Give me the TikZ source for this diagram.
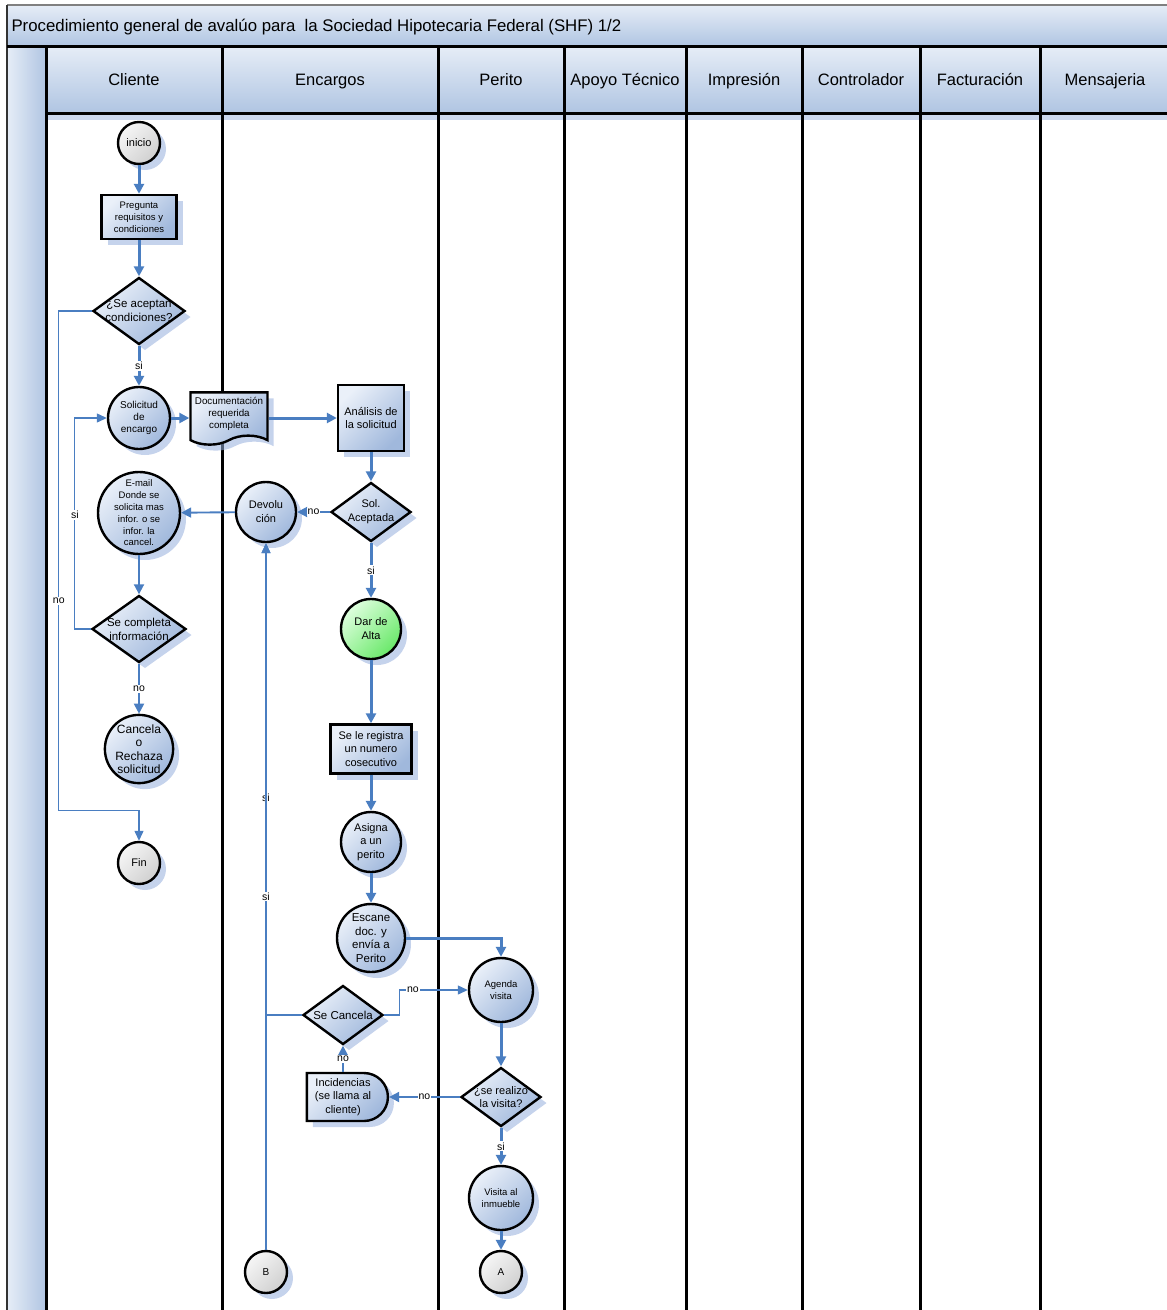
\documentclass[tikz,border=0pt]{standalone}
\usepackage{fontspec}
\setmainfont{Liberation Sans}
\definecolor{flowblue}{RGB}{74, 126, 193}
\definecolor{nodelight}{RGB}{234, 240, 249}
\definecolor{nodedark}{RGB}{160, 184, 220}
\definecolor{graylight}{RGB}{246, 246, 246}
\definecolor{graydark}{RGB}{208, 208, 208}
\definecolor{greenlight}{RGB}{222, 255, 222}
\definecolor{greendark}{RGB}{105, 232, 105}
\definecolor{shadowblue}{RGB}{150, 175, 220}
\definecolor{hdrlight}{RGB}{230, 237, 247}
\definecolor{hdrdark}{RGB}{176, 197, 226}
\usetikzlibrary{arrows.meta, positioning, shapes.geometric, shapes.misc, shapes.symbols, calc, shadows}
\newcommand{\fsz}[2]{\fontsize{#1}{#2}\selectfont}
\tikzset{
	base/.style={draw=black, line width=2.4pt, align=center, inner sep=0pt, top color=nodelight, bottom color=nodedark, shading angle=45, font=\fsz{11}{13.5}, drop shadow={shadow xshift=6pt, shadow yshift=-6pt, fill=shadowblue, opacity=0.55}},
	proc/.style={base, rectangle},
	stepcircle/.style={base, circle, minimum size=#1},
	endpoint/.style={base, circle, minimum size=42pt, top color=graylight, bottom color=graydark, shading angle=45},
	decision/.style={base, diamond, minimum width=80pt, minimum height=59pt},
	dtext/.style={align=center, inner sep=0pt, font=\fsz{11.5}{14}},
	docnode/.style={base, tape, tape bend top=none, tape bend height=9pt, inner xsep=2pt, inner ysep=5pt, minimum width=77pt, minimum height=50pt, font=\fsz{9.8}{12}},
	delaynode/.style={base, rounded rectangle, rounded rectangle left arc=none, minimum width=81pt, minimum height=48pt},
	lanehead/.style={rectangle, draw=black, line width=3pt, top color=hdrlight, bottom color=hdrdark, minimum height=67pt, inner sep=0pt, text height=14pt, text depth=1.5pt, font=\fsz{16.5}{20}},
	laneline/.style={draw=black, line width=3pt},
	flowarrow/.style={-{Triangle[length=10pt, width=10pt]}, line width=3pt, draw=flowblue},
	midarrow/.style={-{Triangle[length=10pt, width=10pt]}, line width=1.9pt, draw=flowblue},
	thinarrow/.style={-{Triangle[length=10pt, width=9pt]}, line width=1.2pt, draw=flowblue},
	edgelabel/.style={fill=white, inner sep=1pt, font=\fsz{10.5}{12}},
}
\begin{document}
\begin{tikzpicture}[x=1pt, y=-1pt, on grid]
	\useasboundingbox (0,0) rectangle (1167,1310);
	\clip (0,0) rectangle (1167,1310);
	% title bar and pool
	\path[top color=hdrlight, bottom color=hdrdark] (7,5) rectangle (1175,46);
	\draw[line width=2pt, black!50] (7,5) -- (1175,5);
	\node[anchor=west, font=\fsz{16.8}{19}] (titulo) at (8,27) {Procedimiento general de avalúo para~ la Sociedad Hipotecaria Federal (SHF) 1/2};
	\path[left color=hdrlight, right color=hdrdark] (7,46) rectangle (46,1315);
	\draw[line width=1.5pt, black!80] (7,5) -- (7,1315);
	\draw[line width=3pt] (7,46) -- (1175,46);
	% lane headers
	\node[lanehead, minimum width=176pt] (hcliente) at (134,79.5) {Cliente};
	\node[lanehead, minimum width=216pt] (hencargos) at (330,79.5) {Encargos};
	\node[lanehead, minimum width=126pt] (hperito) at (501,79.5) {Perito};
	\node[lanehead, minimum width=122pt] (hapoyo) at (625,79.5) {Apoyo Técnico};
	\node[lanehead, minimum width=116pt] (himpresion) at (744,79.5) {Impresión};
	\node[lanehead, minimum width=118pt] (hcontrol) at (861,79.5) {Controlador};
	\node[lanehead, minimum width=120pt] (hfactura) at (980,79.5) {Facturación};
	\node[lanehead, minimum width=130pt] (hmensaje) at (1105,79.5) {Mensajeria};
	\fill[shadowblue, opacity=0.5] (48,115) rectangle (1175,120);
	\draw[laneline] (46,113) -- (46,1315) (222,113) -- (222,1315) (438,113) -- (438,1315) (564,113) -- (564,1315)
		(686,113) -- (686,1315) (802,113) -- (802,1315) (920,113) -- (920,1315) (1040,113) -- (1040,1315);
	% Cliente
	\node[endpoint] (inicio) at (139,143) {inicio};
	\node[proc, minimum width=75pt, minimum height=44pt, below=74pt of inicio, font=\fsz{9.5}{12}] (pregunta) {Pregunta\\requisitos y\\condiciones};
	\node[decision, minimum width=92pt, minimum height=67pt, below=94pt of pregunta, label={[dtext]center:{¿Se aceptan\\condiciones?}}] (aceptan) {};
	\node[stepcircle=62pt, below=107pt of aceptan, font=\fsz{10}{12}] (solicitud) {Solicitud\\de\\encargo};
	\node[stepcircle=82pt, below=95pt of solicitud, font=\fsz{9.5}{11.8}, inner sep=-3pt] (email) {E-mail\\Donde se\\solicita mas\\infor. o se\\infor. la\\cancel.};
	\node[decision, minimum width=94pt, minimum height=67pt, below=116pt of email, label={[dtext]center:{Se completa\\información}}] (completa) {};
	\node[stepcircle=68pt, below=120pt of completa, font=\fsz{12}{13.5}] (cancela) {Cancela\\o\\Rechaza\\solicitud};
	\node[endpoint, below=114pt of cancela] (fin) {Fin};
	% Encargos
	\node[docnode, right=90pt of solicitud, yshift=4pt] (docu) {Documentación\\requerida\\completa};
	\node[proc, minimum size=66pt, right=232pt of solicitud] (analisis) {Análisis de\\la solicitud};
	\node[decision, below=94pt of analisis, label={[dtext, font=\fsz{11}{14}]center:{Sol.\\Aceptada}}] (solacep) {};
	\node[stepcircle=60pt, left=105pt of solacep, font=\fsz{11}{14}] (devol) {Devolu\\ción};
	\node[stepcircle=60pt, top color=greenlight, bottom color=greendark, shading angle=45, below=117pt of solacep, font=\fsz{11}{14}] (alta) {Dar de\\Alta};
	\node[proc, minimum width=81pt, minimum height=49pt, below=120pt of alta] (registra) {Se le registra\\un numero\\cosecutivo};
	\node[stepcircle=60pt, below=93pt of registra] (asigna) {Asigna\\a un\\perito};
	\node[stepcircle=68pt, below=96pt of asigna, font=\fsz{11.5}{13.7}] (escane) {Escane\\doc. y\\envía a\\Perito};
	\node[decision, below left=77pt and 28pt of escane, label={[dtext]center:{Se Cancela}}] (cancelar) {};
	\node[delaynode, below=82pt of cancelar] (incid) {Incidencias\\(se llama al\\cliente)};
	% Perito
	\node[stepcircle=64pt, below right=52pt and 130pt of escane, font=\fsz{9.5}{11.5}] (agenda) {Agenda\\visita};
	\node[decision, below=107pt of agenda, label={[dtext, font=\fsz{11}{13}]center:{¿se realizo\\la visita?}}] (realizo) {};
	\node[stepcircle=64pt, below=101pt of realizo, font=\fsz{9.5}{12}] (visita) {Visita al\\inmueble};
	\node[endpoint, below=74pt of visita, font=\fsz{10}{12}] (nodoA) {A};
	\node[endpoint, left=235pt of nodoA, font=\fsz{10}{12}] (nodoB) {B};
	% connectors
	\draw[flowarrow] (inicio) -- (pregunta);
	\draw[flowarrow] (pregunta) -- (aceptan);
	\draw[flowarrow] (aceptan) -- node[edgelabel]{si} (solicitud);
	\draw[flowarrow] (solicitud) -- (docu.west |- solicitud);
	\draw[flowarrow] (docu.east |- analisis) -- (analisis);
	\draw[flowarrow] (analisis) -- (solacep);
	\draw[midarrow] (solacep) -- node[edgelabel]{no} (devol);
	\draw[midarrow] (devol) -- (email);
	\draw[midarrow] (email) -- (completa);
	\draw[thinarrow] (completa.west) -- ++(-16,0) |- node[edgelabel, pos=0.27]{si} (solicitud.west);
	\draw[midarrow] (completa) -- node[edgelabel]{no} (cancela);
	\draw[thinarrow] (aceptan.west) -- ++(-33,0) |- node[edgelabel, pos=0.29]{no} ($(fin.north)+(0,-30)$) -- (fin.north);
	\draw[flowarrow] (solacep) -- node[edgelabel]{si} (alta);
	\draw[flowarrow] (alta) -- (registra);
	\draw[flowarrow] (registra) -- (asigna);
	\draw[flowarrow] (asigna) -- (escane);
	\draw[flowarrow] (escane.east) -| (agenda.north);
	\draw[thinarrow] (cancelar.east) -- ++(15,0) |- node[edgelabel, pos=0.6]{no} (agenda.west);
	\draw[midarrow] (incid) -- node[edgelabel]{no} (cancelar);
	\draw[thinarrow] (cancelar.west) -| node[edgelabel, pos=0.73]{si} (devol.south);
	\draw[thinarrow] (nodoB) -- node[edgelabel]{si} (devol.south);
	\draw[flowarrow] (agenda) -- (realizo);
	\draw[midarrow] (realizo) -- node[edgelabel]{no} (incid);
	\draw[flowarrow] (realizo) -- node[edgelabel]{si} (visita);
	\draw[flowarrow] (visita) -- (nodoA);
\end{tikzpicture}
\end{document}
